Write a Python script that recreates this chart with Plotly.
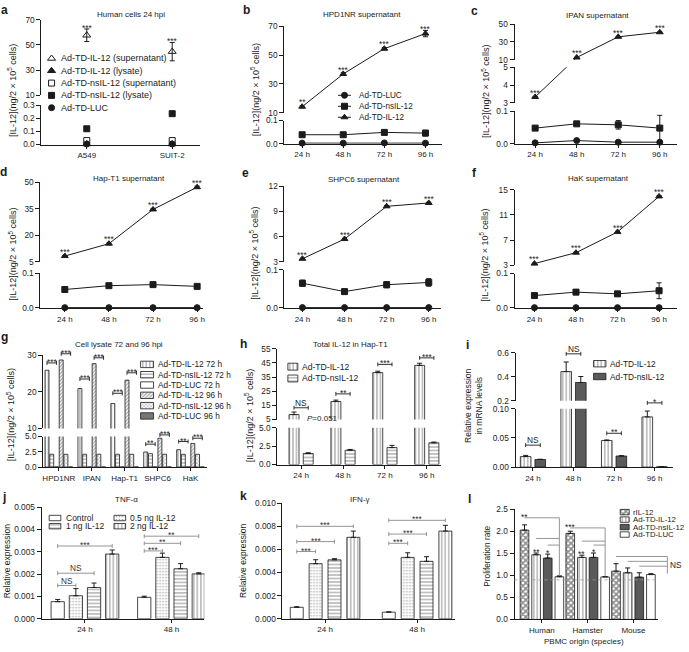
import plotly.graph_objects as go

W, H = 689, 652
FONT = "Liberation Sans, Arial, Helvetica, sans-serif"
INK = "#1b1b1b"
GREY = "#8a8a8a"
DARKFILL = "#5a5a5a"
XTICK_FS = 8.0
YTICK_FS = 8.3
TXT_FS = 8.3
TITLE_FS = 8.0

# ====================== DATA ======================
times = ["24 h", "48 h", "72 h", "96 h"]

# (a) Human cells 24 hpi
a_cells = ["A549", "SUIT-2"]
a_il12_sup = [57.7, 44.7]
a_il12_sup_err = [5.0, 7.3]
a_il12_lys = [0.004, 0.004]
a_nsil12_sup = [0.03, 0.03]
a_nsil12_lys = [0.12, 0.235]
a_luc = [0.004, 0.004]
a_sig = ["***", "***"]
a_ticks = [[0, 0.1, 0.2, 0.3], [10, 30, 50, 70]]
a_ticktext = [["0.0", "0.1", "0.2", "0.3"], ["10", "30", "50", "70"]]
a_legend = ["Ad-TD-IL-12 (supernatant)", "Ad-TD-IL-12 (lysate)",
            "Ad-TD-nsIL-12 (supernatant)", "Ad-TD-nsIL-12 (lysate)", "Ad-TD-LUC"]

# (b) HPD1NR supernatant
b_il12 = [14.1, 36.9, 54.5, 65.0]
b_il12_err = [0.6, 0.8, 0.8, 2.2]
b_nsil12 = [0.039, 0.039, 0.049, 0.046]
b_nsil12_err = [0.003, 0.008, 0.004, 0.012]
b_luc = [0.003, 0.003, 0.004, 0.003]
b_sig = ["**", "***", "***", "***"]
b_ticks = [[0, 0.1], [10, 30, 50, 70]]
b_ticktext = [["0.0", "0.1"], ["10", "30", "50", "70"]]
line_legend = ["Ad-TD-LUC", "Ad-TD-nsIL-12", "Ad-TD-IL-12"]

# (c) IPAN supernatant
c_il12 = [3.33, 12.6, 35.7, 40.8]
c_il12_err = [0.03, 0.3, 0.5, 0.5]
c_nsil12 = [0.048, 0.061, 0.058, 0.048]
c_nsil12_err = [0.003, 0.004, 0.013, 0.039]
c_luc = [0.003, 0.010, 0.005, 0.005]
c_sig = ["***", "***", "***", "***"]
c_ticks = [[0, 0.1], [3, 4, 5], [10, 30, 50]]
c_ticktext = [["0.0", "0.1"], ["3", "4", "5"], ["10", "30", "50"]]

# (d) Hap-T1 supernatant
d_il12 = [8.2, 15.2, 34.6, 47.2]
d_il12_err = [0.3, 0.4, 0.6, 0.6]
d_nsil12 = [0.053, 0.064, 0.067, 0.062]
d_nsil12_err = [0.002, 0.003, 0.003, 0.003]
d_luc = [0.001, 0.001, 0.001, 0.001]
d_sig = ["***", "***", "***", "***"]
d_ticks = [[0, 0.1], [5, 20, 35, 50]]
d_ticktext = [["0.0", "0.1"], ["5", "20", "35", "50"]]

# (e) SHPC6 supernatant
e_il12 = [3.35, 5.7, 9.6, 10.0]
e_il12_err = [0.05, 0.08, 0.1, 0.1]
e_nsil12 = [0.065, 0.043, 0.061, 0.067]
e_nsil12_err = [0.008, 0.003, 0.008, 0.010]
e_luc = [0.001, 0.001, 0.001, 0.001]
e_sig = ["***", "***", "***", "***"]
e_ticks = [[0, 0.1], [3, 6, 9, 12]]
e_ticktext = [["0.0", "0.1"], ["3", "6", "9", "12"]]

# (f) HaK supernatant
f_il12 = [3.26, 5.0, 8.3, 13.95]
f_il12_err = [0.05, 0.08, 0.1, 0.15]
f_nsil12 = [0.036, 0.046, 0.041, 0.050]
f_nsil12_err = [0.002, 0.007, 0.006, 0.023]
f_luc = [0.001, 0.001, 0.001, 0.001]
f_sig = ["***", "***", "***", "***"]
f_ticks = [[0, 0.1], [3, 7, 11, 15]]
f_ticktext = [["0.0", "0.1"], ["3", "7", "11", "15"]]

# (g) Cell lysate 72 and 96 hpi
g_lines = ["HPD1NR", "IPAN", "Hap-T1", "SHPC6", "HaK"]
g_series = ["Ad-TD-IL-12 72 h", "Ad-TD-nsIL-12 72 h", "Ad-TD-LUC 72 h",
            "Ad-TD-IL-12 96 h", "Ad-TD-nsIL-12 96 h", "Ad-TD-LUC 96 h"]
g_il12_72 = [25.9, 20.9, 16.8, 2.47, 2.85]
g_nsil12_72 = [2.1, 2.1, 2.1, 2.2, 2.1]
g_luc_72 = [0.03, 0.03, 0.03, 0.03, 0.03]
g_il12_96 = [28.7, 27.7, 23.2, 4.73, 3.87]
g_nsil12_96 = [2.1, 2.1, 2.1, 2.1, 2.1]
g_luc_96 = [0.03, 0.03, 0.03, 0.03, 0.03]
g_sig_72 = ["***", "***", "***", "**", "**"]
g_sig_96 = ["***", "***", "***", "***", "***"]
g_brk_72 = [27.9, 23.5, 19.6, 3.76, 4.19]
g_brk_96 = [30.4, 29.3, 25.2, 5.27, 4.73]
g_ticks = [[0, 2.5, 5], [10, 20, 30]]
g_ticktext = [["0.0", "2.5", "5.0"], ["10", "20", "30"]]

# (h) Total IL-12 in Hap-T1
h_series = ["Ad-TD-IL-12", "Ad-TD-nsIL-12"]
h_il12 = [8.5, 17.7, 38.1, 43.2]
h_il12_err = [1.8, 1.0, 1.0, 1.5]
h_nsil12 = [1.5, 1.95, 2.3, 2.95]
h_nsil12_err = [0.1, 0.1, 0.3, 0.1]
h_sig = ["NS", "**", "***", "***"]
h_brk = [13.3, 23.1, 43.9, 48.5]
h_ticks = [[0, 2.5, 5], [5, 15, 25, 35, 45, 55]]
h_ticktext = [["0.0", "2.5", "5.0"], ["5", "15", "25", "35", "45", "55"]]

# (i) mRNA
i_series = ["Ad-TD-IL-12", "Ad-TD-nsIL-12"]
i_il12 = [0.018, 0.444, 0.0455, 0.086]
i_il12_err = [0.002, 0.08, 0.001, 0.010]
i_nsil12 = [0.013, 0.353, 0.019, 0.0005]
i_nsil12_err = [0.0005, 0.05, 0.0005, 0.0]
i_sig = ["NS", "NS", "**", "*"]
i_brk = [0.0376, 0.592, 0.0579, 0.110]
i_ticks = [[0, 0.05, 0.1], [0.2, 0.4, 0.6]]
i_ticktext = [["0.00", "0.05", "0.10"], ["0.2", "0.4", "0.6"]]

# (j) TNF-alpha
jk_groups = ["24 h", "48 h"]
jk_series = ["Control", "0.5 ng IL-12", "1 ng IL-12", "2 ng IL-12"]
j_ctrl = [0.000765, 0.00096]
j_ctrl_err = [0.0001, 0.00005]
j_05 = [0.00103, 0.00275]
j_05_err = [0.00032, 0.00019]
j_1 = [0.0014, 0.00224]
j_1_err = [0.0002, 0.00023]
j_2 = [0.0029, 0.00201]
j_2_err = [0.00018, 0.00005]
j_cmp = [(0, 3, 0.00326, "***"), (0, 2, 0.00204, "NS"), (0, 1, 0.00149, "NS"),
         (1, 1, 0.00304, "***"), (1, 2, 0.00338, "**"), (1, 3, 0.0037, "**")]
j_ticks = [[0, 0.001, 0.002, 0.003, 0.004, 0.005]]
j_ticktext = [["0.000", "0.001", "0.002", "0.003", "0.004", "0.005"]]

# (k) IFN-gamma
k_ctrl = [0.00099, 0.00057]
k_ctrl_err = [0.00005, 0.00002]
k_05 = [0.00477, 0.00531]
k_05_err = [0.00034, 0.0004]
k_1 = [0.0051, 0.00497]
k_1_err = [0.0001, 0.0004]
k_2 = [0.00705, 0.00759]
k_2_err = [0.00054, 0.0005]
k_cmp = [(0, 1, 0.00582, "***"), (0, 2, 0.00668, "***"), (0, 3, 0.0080, "***"),
         (1, 1, 0.00653, "***"), (1, 2, 0.00733, "***"), (1, 3, 0.00852, "***")]
k_ticks = [[0, 0.002, 0.004, 0.006, 0.008, 0.010]]
k_ticktext = [["0.000", "0.002", "0.004", "0.006", "0.008", "0.010"]]

# (l) Proliferation
l_species = ["Human", "Hamster", "Mouse"]
l_series = ["rIL-12", "Ad-TD-IL-12", "Ad-TD-nsIL-12", "Ad-TD-LUC"]
l_ril12 = [2.03, 1.955, 1.097]
l_ril12_err = [0.12, 0.05, 0.17]
l_il12 = [1.47, 1.41, 1.06]
l_il12_err = [0.04, 0.05, 0.11]
l_nsil12 = [1.395, 1.41, 0.96]
l_nsil12_err = [0.09, 0.10, 0.10]
l_luc = [0.97, 0.965, 1.02]
l_luc_err = [0.02, 0.01, 0.02]
l_baseline = 0.9
l_sig = [["**", "**", "*"], ["***", "**", "*"], ["NS"]]
l_line_h = [[2.31, 1.84, 1.69], [2.08, 1.78, 1.69], [1.43, 1.32, 1.21]]
l_ticks = [[0, 0.5, 1.0, 1.5, 2.0, 2.5]]
l_ticktext = [["0.0", "0.5", "1.0", "1.5", "2.0", "2.5"]]

# ====================== LAYOUT GEOMETRY (pixels) ======================
GEOM = {
    "a": dict(x0=40.5, x1=200.0, cx=(86.0, 171.7), n=2,
              segs=[(141.7, 101.7, 0.0, 0.3), (91.7, 15.0, 10.0, 70.0)]),
    "b": dict(x0=284.0, x1=442.0, cx=(302.0, 425.7), n=4,
              segs=[(141.0, 117.3, 0.0, 0.1), (109.3, 21.7, 10.0, 70.0)]),
    "c": dict(x0=515.0, x1=678.0, cx=(535.7, 660.7), n=4,
              segs=[(141.0, 107.7, 0.0, 0.1), (99.3, 63.3, 3.0, 5.0), (55.7, 19.3, 10.0, 50.0)]),
    "d": dict(x0=39.5, x1=203.0, cx=(64.0, 196.7), n=4,
              segs=[(307.7, 272.3, 0.0, 0.1), (260.7, 180.0, 5.0, 50.0)]),
    "e": dict(x0=284.3, x1=441.7, cx=(302.3, 429.0), n=4,
              segs=[(307.7, 269.0, 0.0, 0.1), (260.7, 184.0, 3.0, 12.0)]),
    "f": dict(x0=515.0, x1=677.7, cx=(535.0, 660.0), n=4,
              segs=[(307.7, 272.7, 0.0, 0.1), (264.3, 187.7, 3.0, 15.0)]),
    "g": dict(x0=42.3, x1=206.7, cx=(58.0, 190.0), n=5,
              segs=[(469.3, 438.3, 0.0, 5.0), (430.0, 355.7, 10.0, 30.0)]),
    "h": dict(x0=277.0, x1=441.7, cx=(301.0, 427.0), n=4,
              segs=[(466.7, 429.3, 0.0, 5.0), (421.0, 349.0, 5.0, 55.0)]),
    "i": dict(x0=516.0, x1=674.3, cx=(533.5, 655.5), n=4,
              segs=[(469.3, 410.0, 0.0, 0.1), (402.0, 353.3, 0.2, 0.6)]),
    "j": dict(x0=40.7, x1=204.0, cx=(84.2, 171.0), n=2,
              segs=[(623.3, 510.0, 0.0, 0.005)]),
    "k": dict(x0=282.3, x1=455.0, cx=(325.0, 417.3), n=2,
              segs=[(623.3, 506.0, 0.0, 0.010)]),
    "l": dict(x0=515.0, x1=659.0, cx=(542.5, 634.3), n=3,
              segs=[(624.0, 512.3, 0.0, 2.5)]),
}
BARS = {"g": (6, 0.1437, 0.12), "h": (2, 0.34, 0.238), "i": (2, 0.36, 0.262),
        "j": (4, 0.21, 0.153), "k": (4, 0.205, 0.141), "l": (4, 0.254, 0.189)}

PAT_V = dict(shape="|", fgcolor=INK, bgcolor="white", size=3.5, solidity=0.28)
PAT_H = dict(shape="-", fgcolor=INK, bgcolor="white", size=3.5, solidity=0.28)
PAT_DOT = dict(shape=".", fgcolor="#555555", bgcolor="white", size=3, solidity=0.25)
PAT_D1 = dict(shape="/", fgcolor="#444444", bgcolor="white", size=2.5, solidity=0.45)
PAT_X = dict(shape="x", fgcolor="#444444", bgcolor="white", size=2.5, solidity=0.35)
PAT_CHECK = dict(shape="x", fgcolor=INK, bgcolor="white", size=4, solidity=0.65)

# ====================== HELPERS ======================
fig = go.Figure()
LAY = {}
ANN = []
SHP = []
_cnt = {"x": 0, "y": 0}


def _new(kind):
    _cnt[kind] += 1
    k = _cnt[kind]
    suf = "" if k == 1 else str(k)
    return kind + "axis" + suf, kind + suf


def fx(p):
    return p / W


def fy(p):
    return 1 - p / H


def make_axes(pid, xlabels, yticks, yticktext):
    g = GEOM[pid]
    c0, c1 = g["cx"]
    scale = (c1 - c0) / (g["n"] - 1)
    g["scale"] = scale
    xr = [(g["x0"] - c0) / scale, (g["x1"] - c0) / scale]
    xname, xref = _new("x")
    yrefs = []
    for si, (pb, pt, lo, hi) in enumerate(g["segs"]):
        yname, yref = _new("y")
        eps = (hi - lo) * 1e-4
        LAY[yname] = dict(domain=[fy(pb), fy(pt)], range=[lo - eps, hi + eps], anchor=xref,
                          tickmode="array", tickvals=yticks[si], ticktext=yticktext[si],
                          showline=True, linecolor=INK, linewidth=1, ticks="outside",
                          ticklen=4, tickwidth=1, tickcolor=INK, showgrid=False,
                          zeroline=False, fixedrange=True,
                          tickfont=dict(size=YTICK_FS, family=FONT, color=INK))
        yrefs.append(yref)
    LAY[xname] = dict(domain=[fx(g["x0"]), fx(g["x1"])], range=xr, anchor=yrefs[0],
                      tickmode="array", tickvals=list(range(g["n"])), ticktext=xlabels,
                      showline=True, linecolor=INK, linewidth=1, ticks="outside",
                      ticklen=3, tickwidth=1, tickcolor=INK, showgrid=False,
                      zeroline=False, fixedrange=True,
                      tickfont=dict(size=XTICK_FS, family=FONT, color=INK))
    return xref, yrefs


def xpx(pid, xv):
    g = GEOM[pid]
    return g["cx"][0] + xv * g["scale"]


def seg_of(pid, v):
    segs = GEOM[pid]["segs"]
    for i, (pb, pt, lo, hi) in enumerate(segs):
        if lo - 1e-12 <= v <= hi + 1e-12:
            return i
    return min(range(len(segs)), key=lambda i: min(abs(v - segs[i][2]), abs(v - segs[i][3])))


def ypx(pid, v, si=None):
    if si is None:
        si = seg_of(pid, v)
    pb, pt, lo, hi = GEOM[pid]["segs"][si]
    return pb - (v - lo) / (hi - lo) * (pb - pt)


def yseg(pid, v, si):
    p = ypx(pid, v)
    pb, pt, lo, hi = GEOM[pid]["segs"][si]
    return lo + (pb - p) / (pb - pt) * (hi - lo)


def text(x, y, s, size=TXT_FS, xanchor="center", yanchor="middle", angle=0, color=INK):
    ANN.append(dict(x=fx(x), y=fy(y), xref="paper", yref="paper", text=s, showarrow=False,
                    font=dict(size=size, family=FONT, color=color), xanchor=xanchor,
                    yanchor=yanchor, textangle=angle, borderpad=0))


def sig_text(x, ycenter, s, color=INK, size=TXT_FS):
    off = 2.2 if "*" in s else 0.0
    text(x, ycenter + off, s, size=size, color=color)


def seg_line(x0, y0, x1, y1, color=INK, width=1, dash=None):
    ln = dict(color=color, width=width)
    if dash:
        ln["dash"] = dash
    SHP.append(dict(type="line", xref="paper", yref="paper", x0=fx(x0), y0=fy(y0),
                    x1=fx(x1), y1=fy(y1), line=ln))


def bracket(pid, xa, xb, yv, label, color=INK, tcolor=INK, tick=2.0):
    x_a, x_b, y = xpx(pid, xa), xpx(pid, xb), ypx(pid, yv)
    seg_line(x_a, y, x_b, y, color=color, width=0.9)
    seg_line(x_a, y - tick, x_a, y + tick, color=color, width=0.9)
    seg_line(x_b, y - tick, x_b, y + tick, color=color, width=0.9)
    cy = y - 3.2 if "*" in label else y - 5.0
    sig_text((x_a + x_b) / 2, cy, label, color=tcolor)


def line_series(pid, xref, yrefs, y, err, symbol, size=6, lines=True, fill=INK):
    n = len(y)
    xs = list(range(n))
    for si, yref in enumerate(yrefs):
        if lines:
            fig.add_trace(go.Scatter(x=xs, y=[yseg(pid, v, si) for v in y], xaxis=xref,
                                     yaxis=yref, mode="lines", line=dict(color=INK, width=1),
                                     showlegend=False, hoverinfo="skip"))
        idx = [i for i in range(n) if seg_of(pid, y[i]) == si]
        if not idx:
            continue
        tr = dict(x=[xs[i] for i in idx], y=[y[i] for i in idx], xaxis=xref, yaxis=yref,
                  mode="markers", cliponaxis=False, showlegend=False, hoverinfo="skip",
                  marker=dict(symbol=symbol, size=size, color=fill,
                              line=dict(color=INK, width=1)))
        if err is not None:
            tr["error_y"] = dict(type="data", array=[err[i] for i in idx], color=INK,
                                 thickness=1, width=2.5, visible=True)
        fig.add_trace(go.Scatter(**tr))


def line_stars(pid, y, err, sig):
    for i, (v, e, s) in enumerate(zip(y, err, sig)):
        c = min(ypx(pid, v) - 6.5, ypx(pid, v + e) - 3.5)
        sig_text(xpx(pid, i), c, s)


def bar_center(pid, cat, k):
    nb, slot, w = BARS[pid]
    return cat - nb * slot / 2 + (k + 0.5) * slot


def bar_series(pid, xref, yrefs, y, k, err=None, fill="white", pattern=None):
    nb, slot, w = BARS[pid]
    off = -nb * slot / 2 + k * slot + (slot - w) / 2
    for yref in yrefs:
        mk = dict(color=fill, line=dict(color=INK, width=0.8))
        if pattern:
            mk["pattern"] = pattern
        tr = dict(x=list(range(len(y))), y=y, xaxis=xref, yaxis=yref, width=w, offset=off,
                  marker=mk, showlegend=False, hoverinfo="skip")
        if err is not None:
            tr["error_y"] = dict(type="data", symmetric=False, array=err,
                                 arrayminus=[0] * len(err), color=INK, thickness=1, width=2.5)
        fig.add_trace(go.Bar(**tr))


YT = "[IL-12](ng/2 × 10<sup>5</sup> cells)"

# ====================== PANELS ======================
xa, ya = make_axes("a", a_cells, a_ticks, a_ticktext)
line_series("a", xa, ya, a_il12_lys, None, "triangle-up", size=7, lines=False)
line_series("a", xa, ya, a_luc, None, "circle", lines=False)
line_series("a", xa, ya, a_nsil12_lys, None, "square", lines=False)
line_series("a", xa, ya, a_nsil12_sup, None, "square-open", lines=False)
line_series("a", xa, ya, a_il12_sup, a_il12_sup_err, "triangle-up-open", size=7, lines=False)
line_stars("a", a_il12_sup, a_il12_sup_err, a_sig)

xb, yb = make_axes("b", times, b_ticks, b_ticktext)
line_series("b", xb, yb, b_luc, None, "circle")
line_series("b", xb, yb, b_nsil12, b_nsil12_err, "square")
line_series("b", xb, yb, b_il12, b_il12_err, "triangle-up")
line_stars("b", b_il12, b_il12_err, b_sig)

xc, yc = make_axes("c", times, c_ticks, c_ticktext)
line_series("c", xc, yc, c_luc, None, "circle")
line_series("c", xc, yc, c_nsil12, c_nsil12_err, "square")
line_series("c", xc, yc, c_il12, c_il12_err, "triangle-up")
line_stars("c", c_il12, c_il12_err, c_sig)

xd, yd = make_axes("d", times, d_ticks, d_ticktext)
line_series("d", xd, yd, d_luc, None, "circle")
line_series("d", xd, yd, d_nsil12, d_nsil12_err, "square")
line_series("d", xd, yd, d_il12, d_il12_err, "triangle-up")
line_stars("d", d_il12, d_il12_err, d_sig)

xe, ye = make_axes("e", times, e_ticks, e_ticktext)
line_series("e", xe, ye, e_luc, None, "circle")
line_series("e", xe, ye, e_nsil12, e_nsil12_err, "square")
line_series("e", xe, ye, e_il12, e_il12_err, "triangle-up")
line_stars("e", e_il12, e_il12_err, e_sig)

xf, yf = make_axes("f", times, f_ticks, f_ticktext)
line_series("f", xf, yf, f_luc, None, "circle")
line_series("f", xf, yf, f_nsil12, f_nsil12_err, "square")
line_series("f", xf, yf, f_il12, f_il12_err, "triangle-up")
line_stars("f", f_il12, f_il12_err, f_sig)

xg, yg = make_axes("g", g_lines, g_ticks, g_ticktext)
g_data = [g_il12_72, g_nsil12_72, g_luc_72, g_il12_96, g_nsil12_96, g_luc_96]
g_fill = ["white", "white", "white", "white", "white", "#777777"]
g_pat = [PAT_V, PAT_H, None, PAT_D1, PAT_X, None]
for k, (vals, fl, pt) in enumerate(zip(g_data, g_fill, g_pat)):
    bar_series("g", xg, yg, vals, k, fill=fl, pattern=pt)
for c in range(len(g_lines)):
    bracket("g", bar_center("g", c, 0), bar_center("g", c, 2), g_brk_72[c], g_sig_72[c])
    bracket("g", bar_center("g", c, 3), bar_center("g", c, 5), g_brk_96[c], g_sig_96[c])

xh, yh = make_axes("h", times, h_ticks, h_ticktext)
bar_series("h", xh, yh, h_il12, 0, err=h_il12_err, pattern=PAT_V)
bar_series("h", xh, yh, h_nsil12, 1, err=h_nsil12_err, pattern=PAT_H)
for c in range(len(times)):
    bracket("h", bar_center("h", c, 0), bar_center("h", c, 1), h_brk[c], h_sig[c])
text(xpx("h", 0) + 5, ypx("h", 5.0, 1) - 1.5, "<i>P</i>=0.051", size=8, xanchor="left")

xi, yi = make_axes("i", times, i_ticks, i_ticktext)
bar_series("i", xi, yi, i_il12, 0, err=i_il12_err, pattern=PAT_V)
bar_series("i", xi, yi, i_nsil12, 1, err=i_nsil12_err, fill=DARKFILL)
for c in range(len(times)):
    bracket("i", bar_center("i", c, 0), bar_center("i", c, 1), i_brk[c], i_sig[c])

JK_FILL = ["white", "white", "white", "white"]
JK_PAT = [None, PAT_DOT, PAT_H, PAT_V]
xj, yj = make_axes("j", jk_groups, j_ticks, j_ticktext)
for k, (vals, er) in enumerate(zip([j_ctrl, j_05, j_1, j_2], [j_ctrl_err, j_05_err, j_1_err, j_2_err])):
    bar_series("j", xj, yj, vals, k, err=er, fill=JK_FILL[k], pattern=JK_PAT[k])
for (c, kb, hv, s) in j_cmp:
    bracket("j", bar_center("j", c, 0), bar_center("j", c, kb), hv, s, color=GREY, tcolor="#333333")

xk, yk = make_axes("k", jk_groups, k_ticks, k_ticktext)
for k, (vals, er) in enumerate(zip([k_ctrl, k_05, k_1, k_2], [k_ctrl_err, k_05_err, k_1_err, k_2_err])):
    bar_series("k", xk, yk, vals, k, err=er, fill=JK_FILL[k], pattern=JK_PAT[k])
for (c, kb, hv, s) in k_cmp:
    bracket("k", bar_center("k", c, 0), bar_center("k", c, kb), hv, s, color=GREY, tcolor="#333333")

xl, yl = make_axes("l", l_species, l_ticks, l_ticktext)
gl = GEOM["l"]
yb0 = ypx("l", l_baseline)
seg_line(gl["x0"], yb0, gl["x1"], yb0, color="#9a9a9a", width=0.8, dash="dot")
l_vals = [l_ril12, l_il12, l_nsil12, l_luc]
l_errs = [l_ril12_err, l_il12_err, l_nsil12_err, l_luc_err]
l_fill = ["white", "white", DARKFILL, "white"]
l_pat = [PAT_CHECK, PAT_V, None, None]
for k in range(4):
    bar_series("l", xl, yl, l_vals[k], k, err=l_errs[k], fill=l_fill[k], pattern=l_pat[k])
l_conn_dx = [0.0, 0.0, 0.36]
for c in range(3):
    xv = xpx("l", bar_center("l", c, 3) + l_conn_dx[c])
    hs = l_line_h[c]
    for k in range(3):
        xs = xpx("l", bar_center("l", c, k))
        seg_line(xs, ypx("l", hs[k]), xv, ypx("l", hs[k]), color=GREY, width=0.9)
    seg_line(xv, ypx("l", hs[0]), xv, ypx("l", l_luc[c] + l_luc_err[c]), color=GREY, width=0.9)
    if c < 2:
        sig_text(xpx("l", bar_center("l", c, 0)), ypx("l", hs[0]) - 3.2, l_sig[c][0])
        for k in (1, 2):
            sig_text(xpx("l", bar_center("l", c, k)),
                     ypx("l", l_vals[k][c] + l_errs[k][c]) - 3.5, l_sig[c][k])
    else:
        text(xv + 2, ypx("l", hs[2]) - 1, l_sig[c][0], xanchor="left")

# ====================== OVERLAY (legends) ======================
oxn, oxr = _new("x")
oyn, oyr = _new("y")
LAY[oxn] = dict(domain=[0, 1], range=[0, W], visible=False, fixedrange=True, anchor=oyr, type="linear")
LAY[oyn] = dict(domain=[0, 1], range=[H, 0], visible=False, fixedrange=True, anchor=oxr, type="linear")


def leg_marker(x, y, symbol, size=6):
    fig.add_trace(go.Scatter(x=[x], y=[y], xaxis=oxr, yaxis=oyr, mode="markers",
                             cliponaxis=False, showlegend=False, hoverinfo="skip",
                             marker=dict(symbol=symbol, size=size, color=INK,
                                         line=dict(color=INK, width=1))))


def leg_swatch(xl_, xr_, yc, h, fill="white", pattern=None):
    mk = dict(color=fill, line=dict(color=INK, width=0.8))
    if pattern:
        mk["pattern"] = pattern
    w = xr_ - xl_
    fig.add_trace(go.Bar(x=[(xl_ + xr_) / 2], y=[h], base=[yc - h / 2], width=[w], offset=[-w / 2],
                         xaxis=oxr, yaxis=oyr, marker=mk, showlegend=False, hoverinfo="skip"))


a_syms = ["triangle-up-open", "triangle-up", "square-open", "square", "circle"]
for i, (s, lab) in enumerate(zip(a_syms, a_legend)):
    yy = 54.3 + 12.5 * i
    leg_marker(50.7, yy, s, size=7 if "triangle" in s else 6)
    text(59.3, yy, lab, xanchor="left", size=9)

b_syms = ["circle", "square", "triangle-up"]
for i, (s, lab) in enumerate(zip(b_syms, line_legend)):
    yy = 91.7 + 11.15 * i
    seg_line(338.0, yy, 351.0, yy, color=INK, width=1)
    leg_marker(344.5, yy, s)
    text(357.7, yy, lab, xanchor="left", size=8.2)

for i, lab in enumerate(g_series):
    yy = 365.0 + 10.47 * i
    leg_swatch(140.0, 153.0, yy, 6.5, fill=g_fill[i], pattern=g_pat[i])
    text(156.7, yy, lab, xanchor="left", size=8.3)

for i, (lab, pt) in enumerate(zip(h_series, [PAT_V, PAT_H])):
    yy = 367.3 + 12.0 * i
    leg_swatch(287.7, 297.7, yy, 7.0, pattern=pt)
    text(301.0, yy, lab, xanchor="left", size=8.6)

for i, (lab, fl, pt) in enumerate(zip(i_series, ["white", DARKFILL], [PAT_V, None])):
    yy = 364.3 + 13.0 * i
    leg_swatch(594.3, 606.7, yy, 6.5, fill=fl, pattern=pt)
    text(609.3, yy, lab, xanchor="left", size=8.3)

j_pos = [(48.3, 60.0, 64.0, 521.0), (113.3, 125.0, 128.3, 521.0),
         (48.3, 60.0, 64.0, 529.3), (113.3, 125.0, 128.3, 529.3)]
for i, lab in enumerate(jk_series):
    x0_, x1_, tx, yy = j_pos[i]
    leg_swatch(x0_, x1_, yy, 5.5, fill=JK_FILL[i], pattern=JK_PAT[i])
    text(tx, yy, lab, xanchor="left", size=8.5)

for i, lab in enumerate(l_series):
    yy = 515.0 + 7.6 * i
    leg_swatch(621.0, 630.0, yy, 5.5, fill=l_fill[i], pattern=l_pat[i])
    text(633.3, yy, lab, xanchor="left", size=7.8)

# ====================== TITLES / LABELS ======================
titles = [(130.0, 9.5, "Human cells 24 hpi"), (361.7, 10.0, "HPD1NR supernatant"),
          (598.3, 10.3, "IPAN supernatant"), (128.0, 176.7, "Hap-T1 supernatant"),
          (364.3, 177.3, "SHPC6 supernatant"), (599.0, 176.7, "HaK supernatant"),
          (118.3, 345.0, "Cell lysate 72 and 96 hpi"), (351.0, 345.0, "Total IL-12 in Hap-T1"),
          (126.0, 502.3, "TNF-α"), (360.0, 501.7, "IFN-γ"), (585.0, 646.7, "PBMC origin (species)")]
for x, y, s in titles:
    text(x, y, s, size=TITLE_FS)

letters = [(3.5, 5.0, "a"), (246.0, 5.0, "b"), (475.3, 6.3, "c"), (3.0, 170.0, "d"),
           (245.0, 171.0, "e"), (475.0, 170.5, "f"), (3.3, 337.5, "g"), (243.3, 344.0, "h"),
           (468.3, 345.0, "i"), (3.0, 500.0, "j"), (243.3, 499.0, "k"), (470.0, 502.0, "l")]
for x, y, s in letters:
    text(x, y, "<b>%s</b>" % s, size=12)

ytitles = [(11.7, 86.7, YT, 9.0), (255.0, 86.3, YT, 9.0), (485.7, 88.0, YT, 9.0),
           (11.7, 253.0, YT, 9.0), (254.3, 252.0, YT, 9.0), (485.0, 254.0, YT, 9.0),
           (10.0, 415.7, YT, 9.0), (248.3, 417.0, YT, 9.0),
           (474.5, 407.0, "Relative expression<br>in mRNA levels", 8.5),
           (6.0, 565.0, "Relative expression", 8.5), (243.3, 565.0, "Relative expression", 8.5),
           (487.7, 560.0, "Proliferation rate", 8.3)]
for x, y, s, fs in ytitles:
    text(x, y, s, size=fs, angle=-90)

fig.update_layout(**LAY)
fig.update_layout(annotations=ANN, shapes=SHP, width=W, height=H,
                  margin=dict(l=0, r=0, t=0, b=0), paper_bgcolor="white",
                  plot_bgcolor="rgba(0,0,0,0)", showlegend=False, barmode="overlay",
                  font=dict(family=FONT, size=XTICK_FS, color=INK))
fig.write_html("out.html", config={"displayModeBar": False},
               post_script="document.body.style.margin='0px';document.body.style.overflow='hidden';")
